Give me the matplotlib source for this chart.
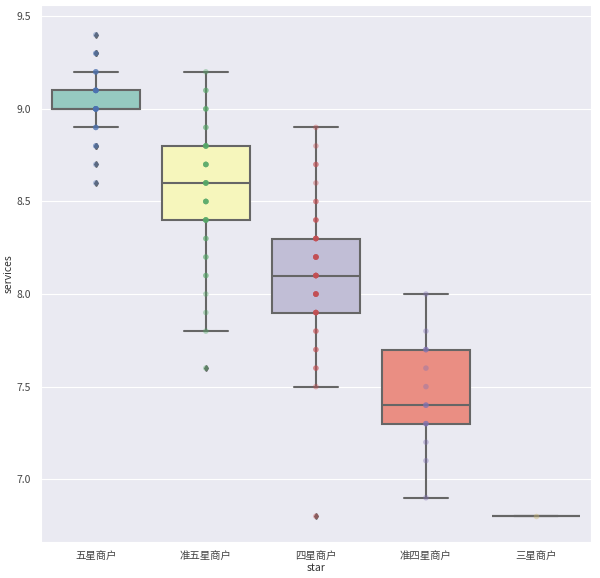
import numpy as np
import pandas as pd
import matplotlib
matplotlib.use('Agg')
import matplotlib.pyplot as plt
import seaborn as sns

# star categories, as on the x axis
stars = ['五星商户', '准五星商户', '四星商户', '准四星商户', '三星商户']

# services scores seen per category (value levels and how many shops sit on each)
five_vals = [8.6, 8.7, 8.8, 8.9, 9.0, 9.1, 9.2, 9.3, 9.4]
five_cnt = [1, 1, 2, 3, 10, 8, 3, 2, 1]

sub_five_vals = [7.6, 7.8, 7.9, 8.0, 8.1, 8.2, 8.3, 8.4, 8.5, 8.6, 8.7, 8.8, 8.9, 9.0, 9.1, 9.2]
sub_five_cnt = [1, 1, 1, 1, 2, 2, 2, 6, 5, 6, 5, 6, 2, 3, 2, 1]

four_vals = [6.8, 7.5, 7.6, 7.7, 7.8, 7.9, 8.0, 8.1, 8.2, 8.3, 8.4, 8.5, 8.6, 8.7, 8.8, 8.9]
four_cnt = [1, 1, 2, 2, 2, 6, 7, 7, 7, 6, 3, 2, 1, 2, 1, 1]

sub_four_vals = [6.9, 7.1, 7.2, 7.3, 7.4, 7.5, 7.6, 7.7, 7.8, 8.0]
sub_four_cnt = [1, 1, 1, 3, 3, 1, 1, 3, 1, 1]

three_vals = [6.8]
three_cnt = [1]

groups = [(five_vals, five_cnt), (sub_five_vals, sub_five_cnt), (four_vals, four_cnt),
          (sub_four_vals, sub_four_cnt), (three_vals, three_cnt)]

rows = []
for s, (vals, cnt) in zip(stars, groups):
    for v in np.repeat(vals, cnt):
        rows.append((s, float(v)))
df = pd.DataFrame(rows, columns=['star', 'services'])

sns.set_style('darkgrid')
plt.rcParams['font.family'] = ['Noto Sans CJK SC', 'DejaVu Sans']

# old seaborn "deep" colours used by the strip points
deep_old = ['#4C72B0', '#55A868', '#C44E52', '#8172B2', '#CCB974']

fig, ax = plt.subplots(figsize=(6, 5.78), dpi=100)
plt.subplots_adjust(left=0.068, right=0.985, bottom=0.062, top=0.991)

sns.boxplot(data=df, x='star', y='services', hue='star', order=stars, hue_order=stars,
            palette='Set3', saturation=0.75, legend=False, linewidth=1.5,
            linecolor='#666666', width=0.8, ax=ax,
            flierprops=dict(marker='d', markerfacecolor='#666666',
                            markeredgecolor='#666666', markersize=3))
sns.stripplot(data=df, x='star', y='services', hue='star', order=stars, hue_order=stars,
              palette=deep_old, jitter=False, alpha=0.4, size=4, legend=False,
              zorder=3, ax=ax)

ax.set_ylim(6.66, 9.56)
ax.set_yticks([7.0, 7.5, 8.0, 8.5, 9.0, 9.5])
ax.set_yticklabels(['7.0', '7.5', '8.0', '8.5', '9.0', '9.5'])
ax.tick_params(labelsize=7.5, colors='#444444')
ax.set_xlabel('star', fontsize=7.5, color='#333333', labelpad=1)
ax.set_ylabel('services', fontsize=7.5, color='#333333', labelpad=2)
ax.xaxis.grid(False)

plt.savefig('out.png', dpi=100)
